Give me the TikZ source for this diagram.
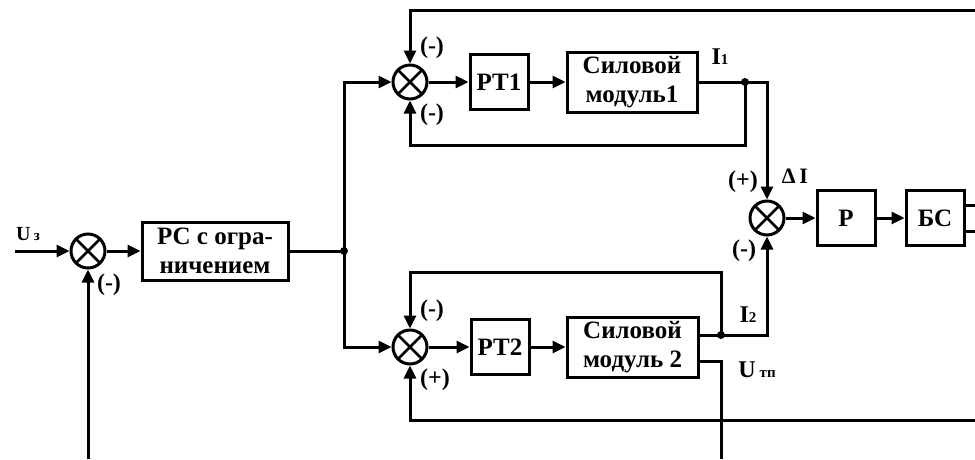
\documentclass[tikz,border=0pt]{standalone}
\usepackage{fontspec}
\setmainfont{Liberation Serif}
\usetikzlibrary{arrows.meta}
\tikzset{
  blk/.style={draw, line width=3pt, inner sep=0pt, align=center,
    font=\fontsize{25}{29}\selectfont\bfseries},
  sumnode/.style={draw, circle, line width=3pt, minimum size=34pt, inner sep=0pt,
    path picture={\draw[line width=2.8pt]
      (path picture bounding box.center) ++(45:17pt) -- ++(225:34pt)
      (path picture bounding box.center) ++(135:17pt) -- ++(315:34pt);}},
  sgn/.style={inner sep=0pt, font=\fontsize{24}{24}\selectfont\bfseries},
  lbl/.style={inner sep=0pt, font=\fontsize{24}{24}\selectfont\bfseries},
  dot/.style={circle, fill, inner sep=0pt, minimum size=8pt},
  ln/.style={line width=3pt},
  arr/.style={line width=3pt, -{Triangle[length=13pt,width=12pt]}}
}
\newcommand{\subsz}[1]{{\fontsize{15}{15}\selectfont #1}}
\begin{document}
\begin{tikzpicture}[x=1pt,y=-1pt]
\useasboundingbox (0,0) rectangle (975,459);
% summing junctions
\node[sumnode] (S0) at (88,251) {};
\node[sumnode] (S1) at (410,82) {};
\node[sumnode] (S2) at (410,347) {};
\node[sumnode] (S3) at (767,218) {};
% blocks
\node[blk, minimum width=146pt, minimum height=58pt] (PC) at (215,251) {РС с огра-\\ничением};
\node[blk, minimum width=58pt, minimum height=55pt] (PT1) at (499,82) {РТ1};
\node[blk, minimum width=130pt, minimum height=60pt] (SM1) at (632,82) {Силовой\\модуль1};
\node[blk, minimum width=58pt, minimum height=55pt] (PT2) at (500,347) {РТ2};
\node[blk, minimum width=131pt, minimum height=60pt] (SM2) at (632.5,347) {Силовой\\модуль 2};
\node[blk, minimum width=58pt, minimum height=55pt] (P) at (846,218) {Р};
\node[blk, minimum width=58pt, minimum height=55pt] (BC) at (935,218) {БС};
% coordinates
\coordinate (uin) at (15,251);
\coordinate (fb0) at (88,459);
\coordinate (J0) at (344,251);
\coordinate (J1) at (745,82);
\coordinate (c1) at (745,145);
\coordinate (T1) at (975,10);
\coordinate (J2) at (721,335);
\coordinate (c2) at (721,272);
\coordinate (u2) at (721,459);
\coordinate (B1) at (975,420);
\coordinate (r1) at (975,205);
\coordinate (r2) at (975,231);
% connectors
\draw[arr] (uin) -- (S0);
\draw[arr] (fb0) -- (S0.south);
\draw[arr] (S0) -- (PC);
\draw[ln] (PC.east) -- (J0);
\draw[arr] (J0) |- (S1.west);
\draw[arr] (J0) |- (S2.west);
\draw[arr] (S1) -- (PT1);
\draw[arr] (PT1) -- (SM1);
\draw[arr] (SM1.east) -| (S3.north);
\draw[arr] (J1) -- (c1) -| (S1.south);
\draw[arr] (T1) -| (S1.north);
\draw[arr] (S2) -- (PT2);
\draw[arr] (PT2) -- (SM2);
\draw[ln] (SM2.east |- J2) -- (J2);
\draw[arr] (J2) -| (S3.south);
\draw[arr] (J2) -- (c2) -| (S2.north);
\draw[ln] ([yshift=-14pt]SM2.east) -| (u2);
\draw[arr] (B1) -| (S2.south);
\draw[arr] (S3) -- (P);
\draw[arr] (P) -- (BC);
\draw[ln] (BC.east |- r1) -- (r1);
\draw[ln] (BC.east |- r2) -- (r2);
\node[dot] at (J0) {};
\node[dot] at (J1) {};
\node[dot] at (J2) {};
% labels
\node[lbl, font=\fontsize{20}{20}\selectfont\bfseries] (lu) at (28,234) {U\,\subsz{з}};
\node[sgn] (m0) at (109,285) {(-)};
\node[sgn] (m1) at (432,48) {(-)};
\node[sgn] (m2) at (432,115) {(-)};
\node[sgn] (m3) at (432,311) {(-)};
\node[sgn] (p1) at (435,380) {(+)};
\node[sgn] (p2) at (743,182) {(+)};
\node[sgn] (m4) at (744,251) {(-)};
\node[lbl, font=\fontsize{22}{22}\selectfont\bfseries] (dI) at (795,176) {Δ\,I};
\node[lbl] (lI1) at (720,57) {I\subsz{1}};
\node[lbl] (lI2) at (748,315) {I\subsz{2}};
\node[lbl] (lut) at (757,370) {U\,\subsz{тп}};
\end{tikzpicture}
\end{document}
